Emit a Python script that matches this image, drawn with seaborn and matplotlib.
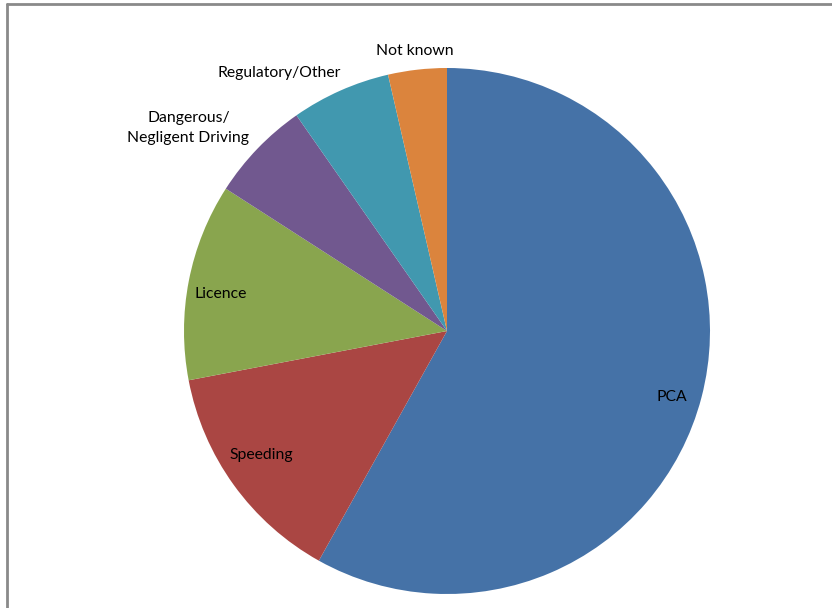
import numpy as np
import matplotlib
matplotlib.use("Agg")
import matplotlib.pyplot as plt
from matplotlib.lines import Line2D
import seaborn as sns

# Offence categories and their shares (%)
categories = ["PCA", "Speeding", "Licence", "Dangerous/\nNegligent Driving",
              "Regulatory/Other", "Not known"]
shares = [58.1, 13.9, 12.1, 6.2, 6.1, 3.6]
colors = ["#4572A7", "#AA4643", "#89A54E", "#71588F", "#4198AF", "#DB843D"]
# label placement: distance (fraction of radius) and angular nudge (degrees)
label_dist = [0.89, 0.85, 0.87, 1.25, 1.17, 1.07]
label_nudge = [-1.7, -2.1, 1.8, 5.8, 9.0, 0.1]

sns.set_theme(style="white")
plt.rcParams["font.family"] = ["Lato", "DejaVu Sans"]

W, H = 832, 608
fig = plt.figure(figsize=(W / 100, H / 100), dpi=100)
ax = fig.add_axes([0, 0, 1, 1])

cx, cy, r = 447, H - 331, 263
palette = sns.color_palette(colors)
wedges, _ = ax.pie(shares, colors=palette, startangle=90, counterclock=False,
                   center=(cx, cy), radius=r, frame=True,
                   wedgeprops=dict(linewidth=0, antialiased=True))
ax.set_xlim(0, W)
ax.set_ylim(0, H)
ax.set_aspect("equal")
ax.axis("off")

for w, lab, d, nudge in zip(wedges, categories, label_dist, label_nudge):
    mid = np.deg2rad((w.theta1 + w.theta2) / 2 + nudge)
    x = cx + d * r * np.cos(mid)
    y = cy + d * r * np.sin(mid)
    ax.text(x, y, lab, ha="center", va="center", fontsize=11.3,
            color="#000000", linespacing=1.5)

# chart border
gray = "#8a8a8a"
fig.add_artist(Line2D([7 / W, 7 / W], [0, 1 - 4 / H], transform=fig.transFigure,
                      color=gray, lw=2))
fig.add_artist(Line2D([7 / W, 1], [1 - 4 / H, 1 - 4 / H], transform=fig.transFigure,
                      color=gray, lw=2))

fig.savefig("out.png", dpi=100)
